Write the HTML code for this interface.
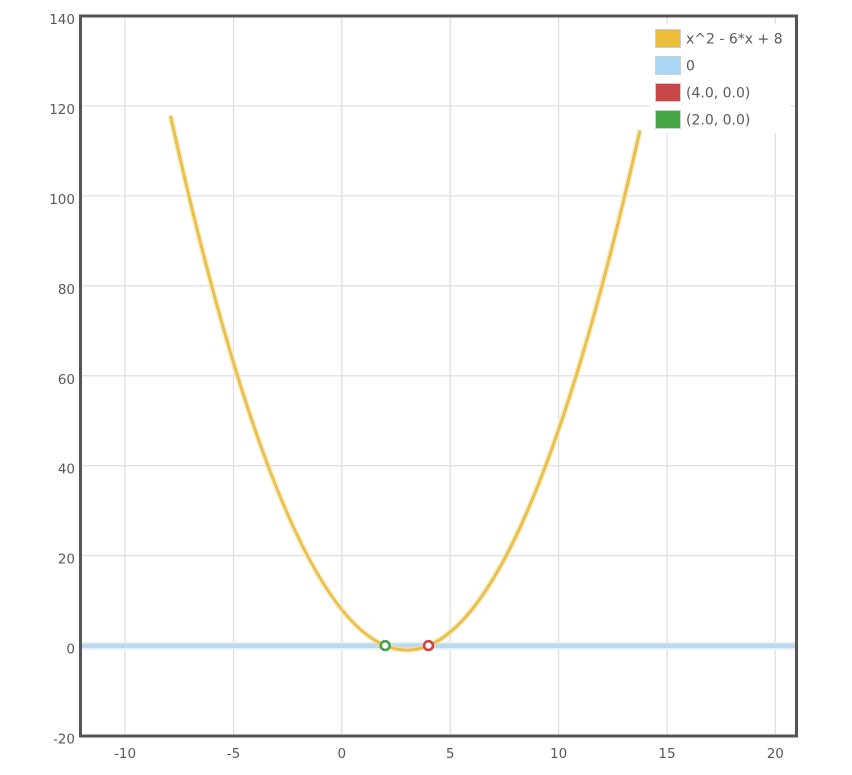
<!DOCTYPE html>
<html><head><meta charset="utf-8"><style>
html,body{margin:0;padding:0;background:#fff;}
svg{display:block;}
text{font-family:"DejaVu Sans","Liberation Sans",sans-serif;fill:#5a5a5a;}
</style></head><body>
<svg width="852" height="775" viewBox="0 0 852 775" xmlns="http://www.w3.org/2000/svg">
<rect x="0" y="0" width="852" height="775" fill="#fff"/>
<g stroke="#e0e0e0" stroke-width="1.3">
<line x1="125.1" y1="16" x2="125.1" y2="736"/>
<line x1="233.5" y1="16" x2="233.5" y2="736"/>
<line x1="341.8" y1="16" x2="341.8" y2="736"/>
<line x1="450.2" y1="16" x2="450.2" y2="736"/>
<line x1="558.6" y1="16" x2="558.6" y2="736"/>
<line x1="667.0" y1="16" x2="667.0" y2="736"/>
<line x1="775.3" y1="16" x2="775.3" y2="736"/>
<line x1="80" y1="105.9" x2="797" y2="105.9"/>
<line x1="80" y1="195.9" x2="797" y2="195.9"/>
<line x1="80" y1="285.8" x2="797" y2="285.8"/>
<line x1="80" y1="375.8" x2="797" y2="375.8"/>
<line x1="80" y1="465.7" x2="797" y2="465.7"/>
<line x1="80" y1="555.6" x2="797" y2="555.6"/>
</g>
<!-- zero line -->
<line x1="80" y1="645.7" x2="797" y2="645.7" stroke="#e6f0f7" stroke-width="8"/>
<line x1="80" y1="645.7" x2="797" y2="645.7" stroke="#bcd8ec" stroke-width="4.5"/>
<!-- curve -->
<path d="M170.5,115.8 Q405.2,1177 639.9,130.4" fill="none" stroke="#f5e2a8" stroke-width="6" stroke-opacity="0.6"/>
<path d="M170.5,115.8 Q405.2,1177 639.9,130.4" fill="none" stroke="#e8c04a" stroke-width="3"/>
<!-- points -->
<circle cx="385.2" cy="645.6" r="4.4" fill="#fff" stroke="#47a147" stroke-width="2.6"/>
<circle cx="428.5" cy="645.6" r="4.4" fill="#fff" stroke="#cc4545" stroke-width="2.6"/>
<!-- legend -->
<rect x="650" y="24" width="140" height="109" fill="#fff"/>
<g stroke="#cfcfcf" stroke-width="1">
<rect x="655.5" y="29.5" width="25" height="18" fill="#ecbe3c"/>
<rect x="655.5" y="56.5" width="25" height="18" fill="#a9d6f5"/>
<rect x="655.5" y="83.5" width="25" height="18" fill="#c94646"/>
<rect x="655.5" y="110.5" width="25" height="18" fill="#45a545"/>
</g>
<g font-size="14">
<text x="686" y="43.5">x^2 - 6*x + 8</text>
<text x="686" y="70.5">0</text>
<text x="686" y="97.5">(4.0, 0.0)</text>
<text x="686" y="124.5">(2.0, 0.0)</text>
</g>
<!-- border -->
<rect x="80.5" y="16" width="716" height="720" fill="none" stroke="#555" stroke-width="3"/>
<!-- y labels -->
<g font-size="13.5" text-anchor="end">
<text x="75" y="24">140</text>
<text x="75" y="113.9">120</text>
<text x="75" y="203.9">100</text>
<text x="75" y="293.8">80</text>
<text x="75" y="383.8">60</text>
<text x="75" y="473.7">40</text>
<text x="75" y="563.6">20</text>
<text x="75" y="653.6">0</text>
<text x="75" y="743.5">-20</text>
</g>
<g font-size="13.5" text-anchor="middle">
<text x="125.1" y="758">-10</text>
<text x="233.5" y="758">-5</text>
<text x="341.8" y="758">0</text>
<text x="450.2" y="758">5</text>
<text x="558.6" y="758">10</text>
<text x="667.0" y="758">15</text>
<text x="775.3" y="758">20</text>
</g>
</svg>
</body></html>
